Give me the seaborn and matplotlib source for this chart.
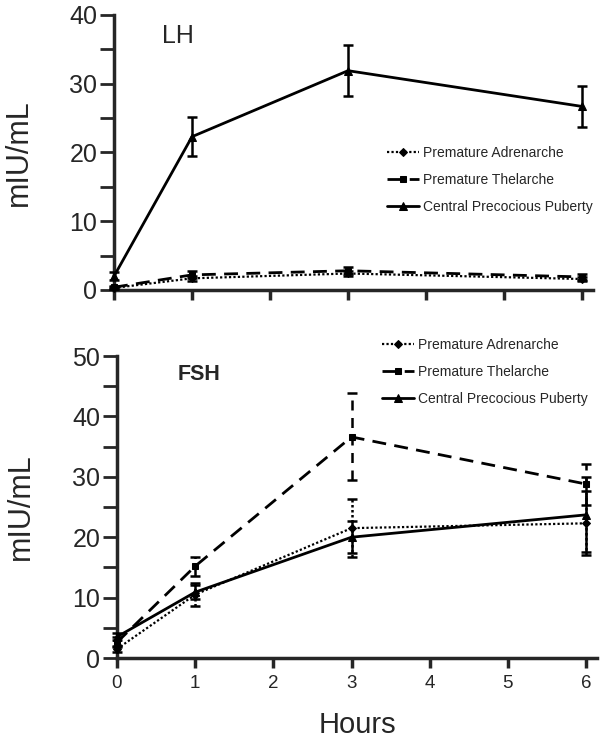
import numpy as np
import pandas as pd
import matplotlib
matplotlib.use("Agg")
import matplotlib.pyplot as plt
import seaborn as sns

# ---------------- data ----------------
hours = [0, 1, 3, 6]
groups = ["Premature Adrenarche", "Premature Thelarche", "Central Precocious Puberty"]

lh_pa = [0.3, 1.7, 2.4, 1.6]
lh_pa_err = [0.2, 0.4, 0.4, 0.3]
lh_pt = [0.4, 2.2, 2.8, 1.9]
lh_pt_err = [0.2, 0.5, 0.5, 0.4]
lh_cpp = [2.0, 22.3, 31.9, 26.7]
lh_cpp_err = [0.6, 2.8, 3.7, 3.0]

fsh_pa = [1.5, 10.5, 21.5, 22.3]
fsh_pa_err = [0.5, 1.9, 4.8, 5.3]
fsh_pt = [2.6, 15.2, 36.6, 28.8]
fsh_pt_err = [0.8, 1.6, 7.2, 3.4]
fsh_cpp = [3.5, 10.9, 20.0, 23.7]
fsh_cpp_err = [0.6, 1.2, 2.6, 6.2]

x_ticks = [0, 1, 2, 3, 4, 5, 6]

# ---------------- style ----------------
sns.set_style("ticks")
plt.rcParams['font.family'] = ['Liberation Sans', 'DejaVu Sans']

styles = {
    "Premature Adrenarche": dict(ls=(0, (1, 1)), lw=1.6, marker="D", ms=4),
    "Premature Thelarche": dict(ls=(0, (5, 3)), lw=2.0, marker="s", ms=5),
    "Central Precocious Puberty": dict(ls="-", lw=2.0, marker="^", ms=5.5),
}

W, H = 600, 741
fig = plt.figure(figsize=(W / 100, H / 100), dpi=100)


def px_axes(left, right, top, bottom):
    return fig.add_axes([left / W, 1 - bottom / H, (right - left) / W, (bottom - top) / H])


ax1 = px_axes(114, 593, 15, 290)
ax2 = px_axes(117, 597, 356, 658)


def draw(ax, series, ymax, show_xlabels):
    for name, (vals, errs) in zip(groups, series):
        st = styles[name]
        df = pd.DataFrame({"Hours": hours, "val": vals})
        sns.lineplot(data=df, x="Hours", y="val", ax=ax, color="black",
                     linestyle=st["ls"], linewidth=st["lw"], marker=st["marker"],
                     markersize=st["ms"], markeredgecolor="black",
                     label=name, clip_on=False, zorder=3)
        eb = ax.errorbar(hours, vals, yerr=errs, fmt="none", ecolor="black",
                         elinewidth=1.8, capsize=3.5, capthick=1.8, clip_on=False, zorder=3)
        if st["ls"] != "-":
            eb[2][0].set_linestyle((0, (4, 3)) if name == "Premature Thelarche" else (0, (1, 1)))
        for c in eb[1]:
            c.set_clip_on(False)
        for c in eb[2]:
            c.set_clip_on(False)
    ax.set_xlim(0, 6.14)
    ax.set_ylim(0, ymax)
    yt = np.arange(0, ymax + 1, 5)
    ax.set_yticks(yt)
    ax.set_yticklabels([str(int(v)) if v % 10 == 0 else "" for v in yt], fontsize=18)
    ax.set_xticks(x_ticks)
    if show_xlabels:
        ax.set_xticklabels([str(v) for v in x_ticks], fontsize=13.5)
    else:
        ax.set_xticklabels([])
    ax.tick_params(axis="y", length=10, width=2, pad=2)
    ax.tick_params(axis="x", length=7, width=2.5, pad=5)
    for s in ["left", "bottom"]:
        ax.spines[s].set_linewidth(2.5)
    sns.despine(ax=ax)
    ax.set_xlabel("")
    ax.set_ylabel("mIU/mL", fontsize=22)


draw(ax1, [(lh_pa, lh_pa_err), (lh_pt, lh_pt_err), (lh_cpp, lh_cpp_err)], 40, False)
draw(ax2, [(fsh_pa, fsh_pa_err), (fsh_pt, fsh_pt_err), (fsh_cpp, fsh_cpp_err)], 50, True)

ax1.yaxis.set_label_coords(-0.168, 0.5)
ax2.yaxis.set_label_coords(-0.168, 0.5)
ax2.set_xlabel("Hours", fontsize=21, labelpad=14)

ax1.text(0.62, 37, "LH", fontsize=18, va="center", ha="left")
ax2.text(0.78, 46.9, "FSH", fontsize=15.5, fontweight="bold", va="center", ha="left")

for ax, anchor in [(ax1, (0.57, 0.525)), (ax2, (0.552, 1.06))]:
    handles, labels = ax.get_legend_handles_labels()
    ax.legend(handles[:3], labels[:3], loc="upper left", bbox_to_anchor=anchor,
              frameon=False, fontsize=10, borderpad=0, borderaxespad=0,
              handlelength=2.3, handletextpad=0.3, labelspacing=0.95)

fig.savefig("out.png", dpi=100)
